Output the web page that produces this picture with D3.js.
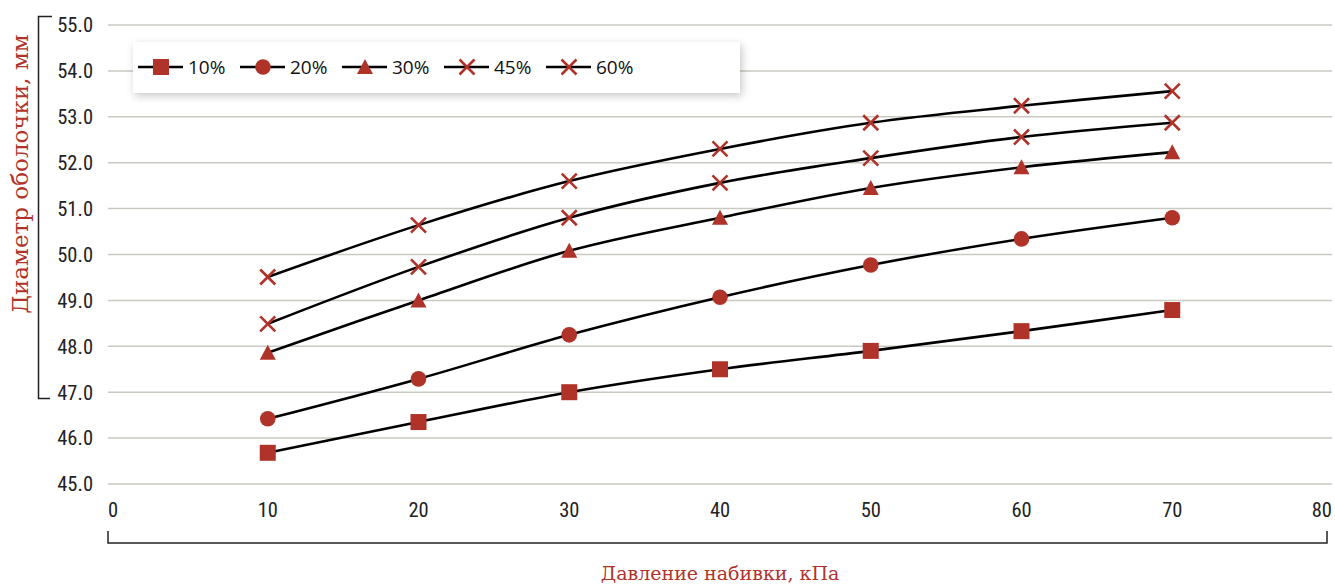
<!DOCTYPE html>
<html><head><meta charset="utf-8">
<script src="https://cdn.jsdelivr.net/npm/d3@7"></script>
<style>
body{margin:0;background:#fff;}
svg{display:block;}
</style></head>
<body>
<svg id="c" width="1335" height="584"></svg>
<script>
const xValues = [10, 20, 30, 40, 50, 60, 70];
const seriesNames = ["10%", "20%", "30%", "45%", "60%"];
const seriesSymbols = ["square", "circle", "triangle", "cross", "cross"];
const s10 = [45.68, 46.35, 47.0, 47.5, 47.9, 48.33, 48.79];
const s20 = [46.42, 47.29, 48.25, 49.07, 49.77, 50.34, 50.8];
const s30 = [47.86, 49.0, 50.08, 50.8, 51.45, 51.9, 52.23];
const s45 = [48.49, 49.73, 50.8, 51.56, 52.1, 52.56, 52.87];
const s60 = [49.51, 50.64, 51.6, 52.3, 52.87, 53.24, 53.56];
const seriesValues = [s10, s20, s30, s45, s60];
const xTicks = [0, 10, 20, 30, 40, 50, 60, 70, 80];
const yTicks = [45, 46, 47, 48, 49, 50, 51, 52, 53, 54, 55];
const xTitle = "Давление набивки, кПа";
const yTitle = "Диаметр оболочки, мм";

const red = "#b0332a";
const svg = d3.select("#c");
const x = d3.scaleLinear().domain([0, 80]).range([117, 1323]);
const y = d3.scaleLinear().domain([45, 55]).range([484, 25]);
const gridL = 108, gridR = 1332;

const defs = svg.append("defs");
const f = defs.append("filter").attr("id","sh").attr("x","-10%").attr("y","-40%").attr("width","120%").attr("height","190%");
f.append("feDropShadow").attr("dx",2).attr("dy",3).attr("stdDeviation",4).attr("flood-color","#000").attr("flood-opacity",0.22);

// gridlines
svg.append("g").selectAll("line").data(yTicks).join("line")
  .attr("x1", gridL).attr("x2", gridR)
  .attr("y1", d => y(d)).attr("y2", d => y(d))
  .attr("stroke", "#c9c9c1").attr("stroke-width", 1.5);

// y tick labels
const numFont = "'Liberation Sans Narrow','Roboto Condensed','Roboto',sans-serif";
svg.append("g").selectAll("text").data(yTicks).join("text")
  .attr("x", 93).attr("y", d => y(d)).attr("dy", "0.36em")
  .attr("text-anchor", "end").attr("font-family", numFont).attr("font-size", 20.5)
  .attr("fill", "#222").text(d => d.toFixed(1));

// x tick labels
svg.append("g").selectAll("text").data(xTicks).join("text")
  .attr("x", d => d === 0 ? 108 : d === 80 ? 1332 : x(d))
  .attr("y", 517)
  .attr("text-anchor", d => d === 0 ? "start" : d === 80 ? "end" : "middle")
  .attr("font-family", numFont).attr("font-size", 20.5)
  .attr("fill", "#222").text(d => d);

// brackets
svg.append("path").attr("d", "M52,16.5H38.5V398.5H50").attr("fill","none").attr("stroke","#222").attr("stroke-width",1.5);
svg.append("path").attr("d", "M108,531V543H1327V531").attr("fill","none").attr("stroke","#222").attr("stroke-width",1.5);

// axis titles
const titleFont = "'DejaVu Serif','Liberation Serif',serif";
svg.append("text").attr("x", 720).attr("y", 580).attr("text-anchor","middle")
  .attr("font-family", titleFont).attr("font-size", 19).attr("fill", red).text(xTitle);
svg.append("text").attr("transform","translate(28,174) rotate(-90)").attr("text-anchor","middle")
  .attr("font-family", titleFont).attr("font-size", 23).attr("fill", red).text(yTitle);

// lines
const line = d3.line().x((d,i) => x(xValues[i])).y(d => y(d)).curve(d3.curveCatmullRom.alpha(0.5));
svg.append("g").selectAll("path").data(seriesValues).join("path")
  .attr("d", d => line(d)).attr("fill","none").attr("stroke","#000").attr("stroke-width",2.6);

function drawMarker(g, type, cx, cy) {
  if (type === "square") {
    g.append("rect").attr("x", cx-8).attr("y", cy-8).attr("width",16).attr("height",16).attr("fill",red);
  } else if (type === "circle") {
    g.append("circle").attr("cx",cx).attr("cy",cy).attr("r",7.8).attr("fill",red);
  } else if (type === "triangle") {
    g.append("path").attr("d", `M${cx},${cy-8}L${cx+8},${cy+7}L${cx-8},${cy+7}Z`).attr("fill",red);
  } else {
    g.append("path").attr("d", `M${cx-7.5},${cy-7.5}L${cx+7.5},${cy+7.5}M${cx+7.5},${cy-7.5}L${cx-7.5},${cy+7.5}`)
      .attr("stroke",red).attr("stroke-width",2.6).attr("fill","none");
  }
}
const mg = svg.append("g");
seriesValues.forEach((vals, si) => {
  vals.forEach((v, i) => drawMarker(mg, seriesSymbols[si], x(xValues[i]), y(v)));
});

// legend
const lg = svg.append("g");
lg.append("rect").attr("x",133).attr("y",42).attr("width",607).attr("height",51).attr("fill","#fff").attr("filter","url(#sh)");
seriesNames.forEach((n, i) => {
  const lx = 138 + i*102, ly = 67;
  lg.append("line").attr("x1", lx).attr("x2", lx+45).attr("y1", ly).attr("y2", ly).attr("stroke","#000").attr("stroke-width",2.6);
  drawMarker(lg, seriesSymbols[i], lx+23, ly);
  lg.append("text").attr("x", lx+50).attr("y", ly).attr("dy","0.36em")
    .attr("font-family","'Open Sans','Noto Sans',sans-serif").attr("font-size",19).attr("fill","#111").text(n);
});
</script>
</body></html>
